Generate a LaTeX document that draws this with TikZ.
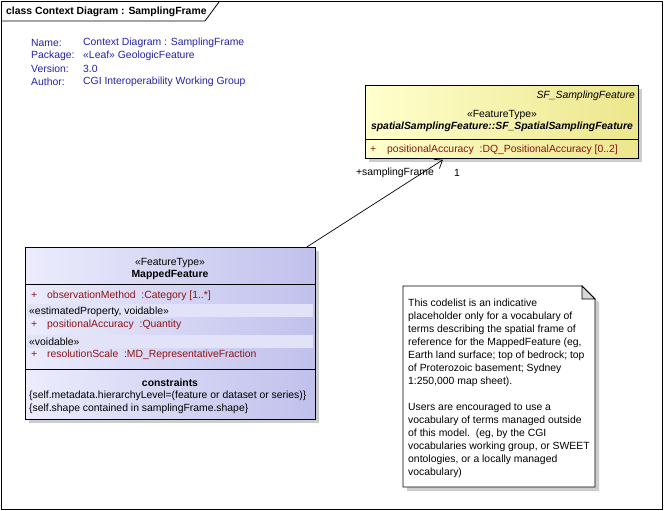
\documentclass[tikz,border=0pt]{standalone}
\usepackage{fontspec}
\setmainfont{Liberation Sans}
\usetikzlibrary{arrows.meta,calc}
\definecolor{metablue}{RGB}{35,35,168}
\definecolor{attrred}{RGB}{140,20,20}
\definecolor{yelL}{RGB}{255,255,205}
\definecolor{yelR}{RGB}{236,230,140}
\definecolor{lavL}{RGB}{236,236,253}
\definecolor{lavR}{RGB}{192,192,236}
\definecolor{band}{RGB}{226,226,248}
\definecolor{shadowgray}{RGB}{205,205,205}
\newcommand{\dfont}{\fontsize{10.4}{13}\selectfont}
\tikzset{
  txt/.style={inner sep=0pt, anchor=west, yshift=-0.8pt, font=\dfont},
  ctxt/.style={inner sep=0pt, anchor=center, yshift=-0.8pt, font=\dfont},
  meta/.style={txt, text=metablue},
  attr/.style={txt, text=attrred},
  boxline/.style={draw=black, line width=0.8pt},
}
\begin{document}
\begin{tikzpicture}[x=1pt,y=-1pt]
\useasboundingbox (0,0) rectangle (664,511);
\fill[white] (0,0) rectangle (664,511);
% outer frame
\draw[line width=0.8pt] (1,1) rectangle (662,509);
\draw[line width=0.8pt] (1,21) -- (205,21) -- (219,2);
\node[txt, font=\dfont\bfseries] (title) at (6,11) {class Context Diagram : SamplingFrame};
% metadata
\node[meta] (n1) at (31,42) {Name:};
\node[meta] (n2) at (31,55) {Package:};
\node[meta] (n3) at (31,68) {Version:};
\node[meta] (n4) at (31,81) {Author:};
\node[meta] (v1) at (83,42) {Context Diagram : SamplingFrame};
\node[meta] (v2) at (83,55) {«Leaf» GeologicFeature};
\node[meta] (v3) at (83,68) {3.0};
\node[meta] (v4) at (83,81) {CGI Interoperability Working Group};
% SF box
\fill[shadowgray] (369,89) rectangle (642,162);
\node[boxline, left color=yelL, right color=yelR, anchor=north west, inner sep=0pt,
      minimum width=273pt, minimum height=73pt] (sf) at (365,85) {};
\draw[line width=0.8pt] (365,139) -- (638,139);
\node[txt, anchor=east, font=\dfont\itshape] (sfname) at (635,95) {SF\_SamplingFeature};
\node[ctxt] (sfst) at (502,114) {«FeatureType»};
\node[ctxt, font=\dfont\bfseries\itshape] (sfcls) at (502,126) {spatialSamplingFeature::SF\_SpatialSamplingFeature};
\node[attr] (sfp) at (370,149) {+};
\node[attr] (sfa) at (387,149) {positionalAccuracy\ \ :DQ\_PositionalAccuracy [0..2]};
% MappedFeature box
\fill[shadowgray] (29,251) rectangle (319,423);
\node[boxline, left color=lavL, right color=lavR, anchor=north west, inner sep=0pt,
      minimum width=290pt, minimum height=172pt] (mf) at (25,247) {};
\fill[band] (27,304) rectangle (313,317);
\fill[band] (27,335) rectangle (313,348);
\draw[line width=0.8pt] (25,284) -- (315,284);
\draw[line width=0.8pt] (25,369) -- (315,369);
\node[ctxt] (mfst) at (170,262) {«FeatureType»};
\node[ctxt, font=\dfont\bfseries] (mfname) at (170,274) {MappedFeature};
\node[attr] (p1) at (31,295) {+};
\node[attr] (a1) at (47,295) {observationMethod\ \ :Category [1..*]};
\node[txt] (s1) at (29,311) {«estimatedProperty, voidable»};
\node[attr] (p2) at (31,324) {+};
\node[attr] (a2) at (47,324) {positionalAccuracy\ \ :Quantity};
\node[txt] (s2) at (29,341) {«voidable»};
\node[attr] (p3) at (31,354) {+};
\node[attr] (a3) at (47,354) {resolutionScale\ \ :MD\_RepresentativeFraction};
\node[ctxt, font=\dfont\bfseries] (cons) at (170,382) {constraints};
\node[txt] (c1) at (29,395) {\{self.metadata.hierarchyLevel=(feature or dataset or series)\}};
\node[txt] (c2) at (29,408) {\{self.shape contained in samplingFrame.shape\}};
% connector
\draw[line width=0.7pt, -{Straight Barb[length=7pt,width=11pt]}]
  ([xshift=-9pt]mf.north east) -- ([xshift=-59pt,yshift=-1pt]sf.south);
\node[txt, anchor=east] (role) at (434,172) {+samplingFrame};
\node[txt] (mult) at (454,172) {1};
% note
\fill[shadowgray] (407,290) -- (586,290) -- (599,303) -- (599,491) -- (407,491) -- cycle;
\fill[white] (403,286) -- (582,286) -- (595,299) -- (595,487) -- (403,487) -- cycle;
\draw[line width=0.8pt] (403,286) -- (582,286) -- (595,299) -- (595,487) -- (403,487) -- cycle;
\draw[line width=0.8pt, fill=black!15] (582,286) -- (582,299) -- (595,299) -- cycle;
\node[txt, anchor=north west, align=left] (note) at (408,298)
{This codelist is an indicative\\
placeholder only for a vocabulary of\\
terms describing the spatial frame of\\
reference for the MappedFeature (eg,\\
Earth land surface; top of bedrock; top\\
of Proterozoic basement; Sydney\\
1:250,000 map sheet).\\[13pt]
Users are encouraged to use a\\
vocabulary of terms managed outside\\
of this model.\ \ (eg, by the CGI\\
vocabularies working group, or SWEET\\
ontologies, or a locally managed\\
vocabulary)};
\end{tikzpicture}
\end{document}
